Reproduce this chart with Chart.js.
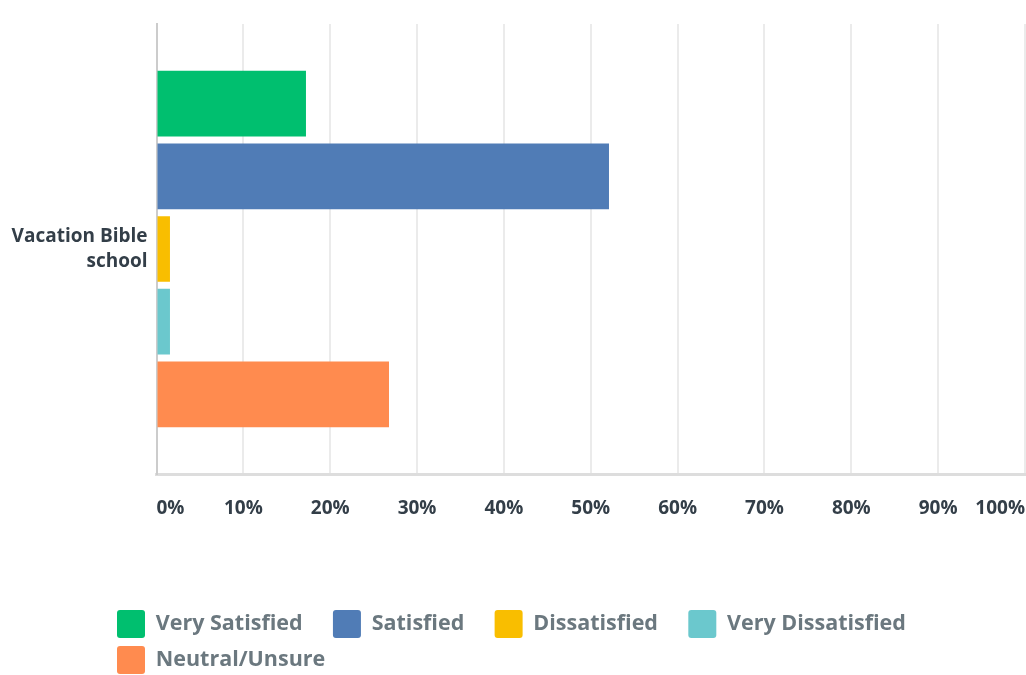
<!DOCTYPE html>
<html>
<head>
<meta charset="utf-8">
<script src="https://cdn.jsdelivr.net/npm/chart.js@4"></script>
<style>
  html, body { margin: 0; padding: 0; background: #fff; overflow: hidden; }
  #wrap { position: relative; width: 1026px; height: 684px; }
</style>
</head>
<body>
<div id="wrap"><canvas id="chart"></canvas></div>
<script>
const categories = [['Vacation Bible', 'school']];
const seriesNames = ['Very Satisfied', 'Satisfied', 'Dissatisfied', 'Very Dissatisfied', 'Neutral/Unsure'];
const seriesColors = ['#00bf6f', '#507cb6', '#f9be00', '#6bc8cd', '#ff8b4f'];
const verySatisfied = [17.21];
const satisfied = [52.1];
const dissatisfied = [1.55];
const veryDissatisfied = [1.55];
const neutralUnsure = [26.77];
const seriesValues = [verySatisfied, satisfied, dissatisfied, veryDissatisfied, neutralUnsure];

const FONT = "'Open Sans', sans-serif";

const datasets = seriesNames.map((name, idx) => ({
  label: name,
  data: seriesValues[idx],
  backgroundColor: seriesColors[idx],
  borderWidth: 0,
  categoryPercentage: 0.8075,
  barPercentage: 0.904,
}));

// let the category label run left of the y scale box instead of being clipped
const labelRoom = {
  id: 'labelRoom',
  afterLayout(chart) {
    chart.scales.y.left = 0;
  },
};

const ctx = document.getElementById('chart').getContext('2d');
new Chart(ctx, {
  type: 'bar',
  data: {
    labels: categories,
    datasets,
  },
  plugins: [labelRoom],
  options: {
    indexAxis: 'y',
    responsive: true,
    maintainAspectRatio: false,
    animation: false,
    layout: {
      padding: { left: 109, right: 1, top: 24, bottom: 0 },
    },
    plugins: {
      tooltip: { enabled: false },
      legend: {
        position: 'bottom',
        align: 'start',
        labels: {
          boxWidth: 28,
          boxHeight: 28,
          padding: 8,
          useBorderRadius: true,
          borderRadius: 3,
          color: '#6b787f',
          font: { family: FONT, size: 21.5, weight: '700' },
          generateLabels: (chart) =>
            Chart.defaults.plugins.legend.labels.generateLabels(chart).map((item) => ({
              ...item,
              text: item.text + '    ',
            })),
        },
      },
    },
    scales: {
      x: {
        min: 0,
        max: 100,
        ticks: {
          stepSize: 10,
          align: 'inner',
          padding: 23,
          color: '#333e48',
          font: { family: FONT, size: 19, weight: '700' },
          callback: function (value) {
            return value + '%';
          },
        },
        grid: {
          color: '#ebebeb',
          lineWidth: 2,
          drawTicks: false,
        },
        border: {
          color: '#dddddd',
          width: 3,
        },
        afterFit: function (scale) {
          scale.height = 128;
          scale.paddingLeft = 0;
          scale.paddingRight = 0;
        },
      },
      y: {
        ticks: {
          padding: 9,
          color: '#333e48',
          font: { family: FONT, size: 19, weight: '700', lineHeight: 1.32 },
        },
        grid: {
          display: false,
          drawTicks: false,
        },
        border: {
          color: '#cccccc',
          width: 2,
        },
        afterFit: function (scale) {
          scale.width = 47.5;
          scale.paddingTop = 0;
          scale.paddingBottom = 0;
        },
      },
    },
  },
});
</script>
</body>
</html>
